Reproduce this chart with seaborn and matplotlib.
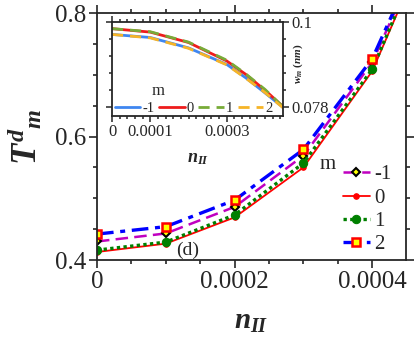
import numpy as np
import pandas as pd
import matplotlib
matplotlib.use('Agg')
import matplotlib.pyplot as plt
from matplotlib.ticker import MultipleLocator, FixedLocator, FixedFormatter
import seaborn as sns

# main panel: T_m^d against n_II, one list per m
n_main = [0, 0.0001, 0.0002, 0.0003, 0.0004, 0.0005]
t_m1 = [0.430, 0.443, 0.486, 0.569, 0.720, 0.970]
t_0 = [0.413, 0.4265, 0.469, 0.550, 0.706, 0.964]
t_1 = [0.416, 0.429, 0.473, 0.557, 0.709, 0.969]
t_2 = [0.442, 0.454, 0.497, 0.579, 0.726, 0.973]
m_labels = ['-1', '0', '1', '2']

# inset: w_m (nm) against n_II
n_inset = [0, 0.0001, 0.0002, 0.0003, 0.00035, 0.0004, 0.00045]
w_m1 = [0.0969, 0.0961, 0.0934, 0.0891, 0.0856, 0.0817, 0.0777]
w_0 = [0.0984, 0.0975, 0.0948, 0.0900, 0.0865, 0.0824, 0.0779]
w_1 = [0.0984, 0.0976, 0.0949, 0.0902, 0.0866, 0.0826, 0.0778]
w_2 = [0.0969, 0.0960, 0.0933, 0.0890, 0.0855, 0.0818, 0.0776]

main_ticks = [0, 0.0002, 0.0004]
main_ticklabels = ['0', '0.0002', '0.0004']
main_yticks = [0.4, 0.6, 0.8]
main_yticklabels = ['0.4', '0.6', '0.8']
inset_ticks = [0, 0.0001, 0.0003]
inset_ticklabels = ['0', '0.0001', '0.0003']
inset_yticks = [0.078, 0.1]
inset_yticklabels = ['0.078', '0.1']

sns.set_style('ticks')
plt.rcParams['font.family'] = ['Liberation Serif', 'DejaVu Serif']
plt.rcParams['mathtext.fontset'] = 'custom'
plt.rcParams['mathtext.it'] = 'Liberation Serif:bold:italic'
plt.rcParams['mathtext.rm'] = 'Liberation Serif:bold'
plt.rcParams['mathtext.bf'] = 'Liberation Serif:bold'
plt.rcParams['axes.linewidth'] = 1.3

df = pd.DataFrame({'n': n_main * 4,
                   'T': t_m1 + t_0 + t_1 + t_2,
                   'm': sum([[m] * len(n_main) for m in m_labels], [])})
dfi = pd.DataFrame({'n': n_inset * 4,
                    'w': w_m1 + w_0 + w_1 + w_2,
                    'm': sum([[m] * len(n_inset) for m in m_labels], [])})

fig = plt.figure(figsize=(4.15, 3.47), dpi=100)
ax = fig.add_axes([0.2337, 0.2507, 0.7446, 0.7118])

main_styles = {
    '-1': dict(color='#c000c0', ls=(0, (5, 2.5)), lw=1.8, marker='D', ms=4.5,
               mfc='#ffff00', mec='black', mew=1.5),
    '0': dict(color='#ff0000', ls='-', lw=1.3, marker='o', ms=4,
              mfc='#ff0000', mec='#ff0000'),
    '1': dict(color='#008000', ls=(0, (1, 1)), lw=2.4, marker='o', ms=6,
              mfc='#008000', mec='#008000'),
    '2': dict(color='#0000ff', ls=(0, (5, 2, 1.5, 2)), lw=2.4, marker='s', ms=5.5,
              mfc='#ffff00', mec='#ff0000', mew=1.8),
}
for m in m_labels:
    sub = df[df['m'] == m]
    sns.lineplot(data=sub, x='n', y='T', ax=ax, label=m, errorbar=None,
                 **main_styles[m])

ax.set_xlim(0, 0.000449)
ax.set_ylim(0.4, 0.8)
ax.xaxis.set_major_locator(FixedLocator(main_ticks))
ax.xaxis.set_major_formatter(FixedFormatter(main_ticklabels))
ax.xaxis.set_minor_locator(MultipleLocator(0.00005))
ax.yaxis.set_major_locator(FixedLocator(main_yticks))
ax.yaxis.set_major_formatter(FixedFormatter(main_yticklabels))
ax.yaxis.set_minor_locator(MultipleLocator(0.05))
ax.tick_params(which='both', direction='out', top=True, right=True, width=1.2,
               labelsize=18, pad=2)
ax.tick_params(which='major', length=6)
ax.tick_params(which='minor', length=3)
ax.set_xlabel(r'$n_{II}$', fontsize=21)
ax.xaxis.set_label_coords(0.5, -0.2)
ax.set_ylabel(r'$T^{d}{}_{m}$', fontsize=25)
ax.yaxis.set_label_coords(-0.17, 0.5)

ax.legend(loc='upper left', bbox_to_anchor=(0.795, 0.385), frameon=False,
          fontsize=15, handlelength=1.3, handletextpad=0.2, labelspacing=0.18,
          borderaxespad=0, borderpad=0)
ax.text(0.748, 0.385, 'm', transform=ax.transAxes, fontsize=15,
        ha='center', va='center')
ax.text(0.000132, 0.416, '(d)', fontsize=14, ha='center', va='center')

# inset
axi = fig.add_axes([0.2699, 0.6657, 0.412, 0.2695])
inset_colors = {'-1': '#3f86f0', '0': '#ee1c1c', '1': '#78ab38', '2': '#f6b427'}
inset_ls = {'-1': '-', '0': '-', '1': (0, (4, 2.5)), '2': (0, (4, 2.5))}
for m in m_labels:
    sub = dfi[dfi['m'] == m]
    sns.lineplot(data=sub, x='n', y='w', ax=axi, label=m, errorbar=None,
                 color=inset_colors[m], ls=inset_ls[m], lw=2)

axi.set_xlim(0, 0.000447)
axi.set_ylim(0.0757, 0.1)
axi.xaxis.set_major_locator(FixedLocator(inset_ticks))
axi.xaxis.set_major_formatter(FixedFormatter(inset_ticklabels))
axi.xaxis.set_minor_locator(MultipleLocator(0.00002))
axi.yaxis.set_major_locator(FixedLocator(inset_yticks))
axi.yaxis.set_major_formatter(FixedFormatter(inset_yticklabels))
axi.yaxis.set_minor_locator(FixedLocator(list(np.linspace(0.078, 0.1, 6))))
axi.tick_params(which='both', direction='out', top=True, right=True, left=True,
                labelleft=False, labelright=True, width=1.1, labelsize=12, pad=2)
axi.tick_params(which='major', length=4)
axi.tick_params(which='minor', length=2.2)
axi.set_xlabel(r'$n_{II}$', fontsize=13)
axi.xaxis.set_label_coords(0.5, -0.36)
axi.yaxis.set_label_position('right')
axi.set_ylabel(r'$w_m$ $(nm)$', fontsize=8)
axi.yaxis.set_label_coords(1.05, 0.56)
axi.legend(ncol=4, loc='lower left', bbox_to_anchor=(0.0, -0.02), frameon=False,
           fontsize=10.5, handlelength=1.75, handletextpad=0.15, columnspacing=0.3,
           borderpad=0.1, borderaxespad=0.1)
axi.text(0.27, 0.27, 'm', transform=axi.transAxes, fontsize=12,
         ha='center', va='center')

plt.savefig('out.png', dpi=100)
